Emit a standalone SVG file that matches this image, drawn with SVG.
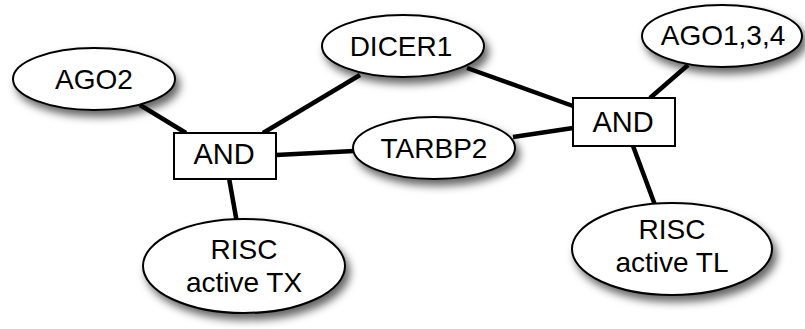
<svg xmlns="http://www.w3.org/2000/svg" width="805" height="329" viewBox="0 0 805 329">
<defs>
<filter id="sh" x="-20%" y="-20%" width="150%" height="160%">
<feDropShadow dx="4" dy="6" stdDeviation="4.5" flood-color="#000" flood-opacity="0.6"/>
</filter>
<style>
.e{fill:#fff;stroke:#000;stroke-width:2;filter:url(#sh)}
.b{fill:#fff;stroke:#000;stroke-width:2}
.t{font-family:"Liberation Sans",Arial,sans-serif;font-size:28px;fill:#000;text-anchor:middle}
.a{font-size:29px}
.c line{stroke:#000;stroke-width:4.5;stroke-linecap:butt}
</style>
</defs>
<rect width="805" height="329" fill="#fff"/>
<g id="connectors" class="c">
<line x1="140" y1="105" x2="186" y2="133"/>
<line x1="263" y1="133" x2="360" y2="75"/>
<line x1="276" y1="155" x2="354" y2="151"/>
<line x1="229" y1="178" x2="237" y2="223"/>
<line x1="467" y1="68" x2="573" y2="106"/>
<line x1="513" y1="137" x2="573" y2="128"/>
<line x1="650" y1="98" x2="688" y2="65"/>
<line x1="633" y1="146" x2="655" y2="205"/>
</g>
<g id="ago2"><ellipse class="e" cx="94" cy="79" rx="81" ry="31"/><text class="t" x="94" y="89">AGO2</text></g>
<g id="dicer1"><ellipse class="e" cx="403" cy="46" rx="81" ry="31"/><text class="t" x="401" y="56">DICER1</text></g>
<g id="tarbp2"><ellipse class="e" cx="434" cy="148" rx="81" ry="31"/><text class="t" x="434" y="158">TARBP2</text></g>
<g id="ago134"><ellipse class="e" cx="722" cy="36" rx="80" ry="31"/><text class="t" x="723" y="45">AGO1,3,4</text></g>
<g id="and1"><rect class="b" x="174" y="133" width="102" height="46"/><text class="t a" x="224" y="164">AND</text></g>
<g id="and2"><rect class="b" x="573" y="98" width="102" height="48"/><text class="t a" x="623" y="132">AND</text></g>
<g id="risc-tx"><ellipse class="e" cx="244" cy="266" rx="101" ry="47"/><text class="t" x="244" y="259">RISC</text><text class="t" x="244" y="292">active TX</text></g>
<g id="risc-tl"><ellipse class="e" cx="672" cy="249" rx="100" ry="46"/><text class="t" x="672" y="239">RISC</text><text class="t" x="672" y="272">active TL</text></g>
</svg>
